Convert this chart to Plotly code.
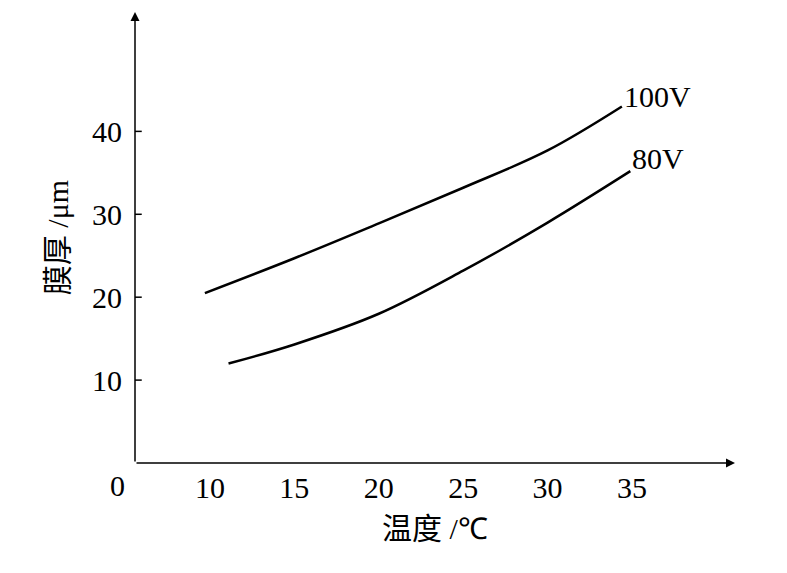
import plotly.graph_objects as go

x100 = [9.7, 15, 20, 25, 30, 34.4]
y100 = [20.5, 24.7, 28.9, 33.2, 37.7, 43.0]
x80 = [11.1, 15, 20, 25, 30, 34.9]
y80 = [12.0, 14.3, 18.0, 23.2, 29.0, 35.2]
xticks = [10, 15, 20, 25, 30, 35]
yticks = [10, 20, 30, 40]

X0, X1, Y0, Y1 = 5.56, 41.1, 0, 54.4
serif = "Liberation Serif, Times New Roman, serif"

fig = go.Figure()
for xs, ys in [(x100, y100), (x80, y80)]:
    fig.add_trace(go.Scatter(x=xs, y=ys, mode="lines", line=dict(color="black", width=2.5, shape="spline", smoothing=1.0), showlegend=False))

for (x, y) in [(X1, 0), (X0, Y1)]:
    fig.add_annotation(x=x, y=y, ax=X0, ay=0, xref="x", yref="y", axref="x", ayref="y", showarrow=True, arrowhead=2, arrowsize=1.2, arrowwidth=1.5, arrowcolor="black", text="")
for t in yticks:
    fig.add_shape(type="line", x0=X0, x1=X0 + 0.4, y0=t, y1=t, xref="x", yref="y", line=dict(color="black", width=1.5))
fig.add_annotation(x=x100[-1], y=y100[-1], text="100V", showarrow=False, xanchor="left", yanchor="bottom", xshift=0, yshift=-8, font=dict(family=serif, size=30, color="black"))
fig.add_annotation(x=x80[-1], y=y80[-1], text="80V", showarrow=False, xanchor="left", yanchor="bottom", xshift=0, yshift=-6, font=dict(family=serif, size=30, color="black"))
fig.add_annotation(x=X0, y=0, text="0", showarrow=False, xanchor="right", yanchor="top", xshift=-8, yshift=-4, font=dict(family=serif, size=30, color="black"))

fig.update_layout(
    width=787, height=573, plot_bgcolor="white", paper_bgcolor="white",
    margin=dict(l=127, r=60, t=4, b=118),
    font=dict(family=serif, size=30, color="black"),
    xaxis=dict(range=[X0, X1], tickvals=xticks, showgrid=False, zeroline=False, showline=False, ticks="", ticklabelstandoff=4,
               title=dict(text="<span style='font-family:Noto Sans CJK SC'>温度</span> /℃", font=dict(size=30), standoff=6)),
    yaxis=dict(range=[Y0, Y1], tickvals=yticks, showgrid=False, zeroline=False, showline=False, ticks="", ticklabelstandoff=12,
               title=dict(text="<span style='font-family:Noto Sans CJK SC'>膜厚</span> /μm", font=dict(size=30), standoff=14)),
)
fig.write_html("out.html")
